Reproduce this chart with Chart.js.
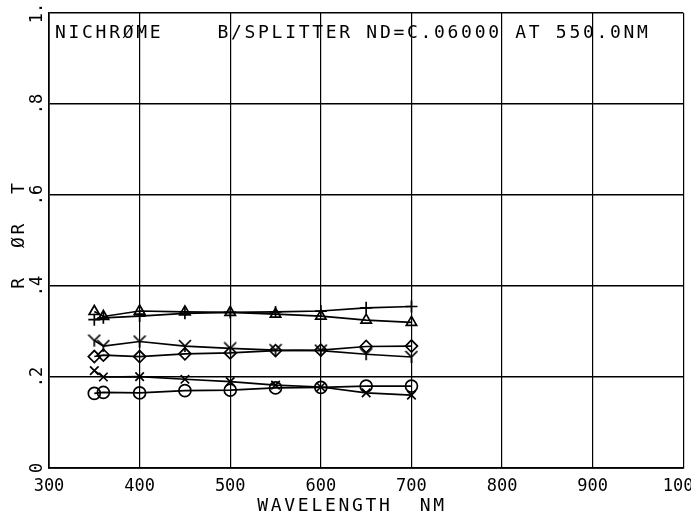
<!DOCTYPE html>
<html>
<head>
<meta charset="utf-8">
<script src="https://cdn.jsdelivr.net/npm/chart.js@4.4.0/dist/chart.umd.min.js"></script>
<style>
  html, body { margin: 0; padding: 0; background: #fff; }
</style>
</head>
<body>
<canvas id="myChart" width="691" height="516"></canvas>
<script>
// datos
const wavelengths = [350, 360, 400, 450, 500, 550, 600, 650, 700];
const triangleVals = [0.344, 0.333, 0.345, 0.343, 0.342, 0.338, 0.334, 0.325, 0.320];
const plusVals = [0.326, 0.330, 0.334, 0.340, 0.342, 0.343, 0.345, 0.352, 0.355];
const yVals = [0.280, 0.268, 0.278, 0.268, 0.263, 0.259, 0.258, 0.250, 0.244];
const diamondVals = [0.245, 0.248, 0.245, 0.251, 0.253, 0.258, 0.259, 0.267, 0.268];
const crossVals = [0.214, 0.200, 0.201, 0.195, 0.190, 0.182, 0.178, 0.165, 0.160];
const circleVals = [0.164, 0.166, 0.165, 0.170, 0.171, 0.176, 0.177, 0.180, 0.180];

const xTicks = [300, 400, 500, 600, 700, 800, 900, 1000];
const yTicks = [0, 0.2, 0.4, 0.6, 0.8, 1];
const yTickLabels = ["0", ".2", ".4", ".6", ".8", "1."];

const titleText = "NICHRØME    B/SPLITTER ND=C.06000 AT 550.0NM";
const xTitle = "WAVELENGTH  NM";
const yTitle = "R  ØR  T";

const plotFont = '"DejaVu Sans Mono", "Liberation Mono", monospace';

// marcador en forma de Y
function makeYMarker() {
  const c = document.createElement("canvas");
  c.width = 14;
  c.height = 14;
  const g = c.getContext("2d");
  g.strokeStyle = "#000";
  g.lineWidth = 1.7;
  g.beginPath();
  g.moveTo(1, 1);
  g.lineTo(7, 7);
  g.lineTo(13, 1);
  g.moveTo(7, 7);
  g.lineTo(7, 13);
  g.stroke();
  return c;
}

function series(values, style, radius) {
  return {
    data: wavelengths.map((x, i) => ({ x: x, y: values[i] })),
    borderColor: "#000",
    borderWidth: 1.7,
    pointStyle: style,
    pointRadius: radius,
    pointBorderColor: "#000",
    pointBackgroundColor: "rgba(0,0,0,0)",
    pointBorderWidth: 1.7,
    tension: 0,
  };
}

// textos del trazador
const plotterText = {
  id: "plotterText",
  afterDraw(chart) {
    const ctx = chart.ctx;
    const area = chart.chartArea;
    ctx.save();
    ctx.fillStyle = "#000";
    ctx.font = "18px " + plotFont;
    ctx.letterSpacing = "2.7px";
    ctx.textBaseline = "alphabetic";
    ctx.textAlign = "left";
    ctx.fillText(titleText, area.left + 6, area.top + 25);

    ctx.textAlign = "center";
    ctx.fillText(xTitle, 352, 511);

    ctx.translate(24, (area.top + area.bottom) / 2 - 6);
    ctx.rotate(-Math.PI / 2);
    ctx.fillText(yTitle, 0, 0);
    ctx.restore();
  },
};

const ctx = document.getElementById("myChart").getContext("2d");
new Chart(ctx, {
  type: "line",
  data: {
    datasets: [
      series(triangleVals, "triangle", 6),
      series(plusVals, "cross", 6),
      series(yVals, makeYMarker(), 6),
      series(diamondVals, "rectRot", 6),
      series(crossVals, "crossRot", 6),
      series(circleVals, "circle", 6),
    ],
  },
  options: {
    responsive: false,
    devicePixelRatio: 1,
    animation: false,
    layout: { padding: { top: 13, right: 6, left: 0, bottom: 0 } },
    plugins: {
      legend: { display: false },
      tooltip: { enabled: false },
    },
    scales: {
      x: {
        type: "linear",
        min: 300,
        max: 1000,
        afterBuildTicks: (scale) => {
          scale.ticks = xTicks.map((v) => ({ value: v }));
        },
        afterFit: (scale) => {
          scale.height = 48;
          scale.paddingLeft = 0;
          scale.paddingRight = 0;
        },
        grid: { color: "#000", lineWidth: 1.2, drawTicks: false },
        border: { display: true, color: "#000", width: 1.7 },
        ticks: {
          color: "#000",
          font: { family: plotFont, size: 17 },
          padding: 8,
          maxRotation: 0,
          autoSkip: false,
          callback: (value) => String(value),
        },
      },
      y: {
        type: "linear",
        min: 0,
        max: 1,
        afterBuildTicks: (scale) => {
          scale.ticks = yTicks.map((v) => ({ value: v }));
        },
        afterFit: (scale) => {
          scale.width = 49;
          scale.paddingTop = 0;
          scale.paddingBottom = 0;
        },
        grid: { color: "#000", lineWidth: 1.6, drawTicks: false },
        border: { display: true, color: "#000", width: 1.7 },
        ticks: {
          color: "#000",
          font: { family: plotFont, size: 17 },
          minRotation: 90,
          maxRotation: 90,
          crossAlign: "center",
          padding: 1,
          autoSkip: false,
          callback: (value) => yTickLabels[yTicks.indexOf(value)],
        },
      },
    },
  },
  plugins: [plotterText],
});
</script>
</body>
</html>
